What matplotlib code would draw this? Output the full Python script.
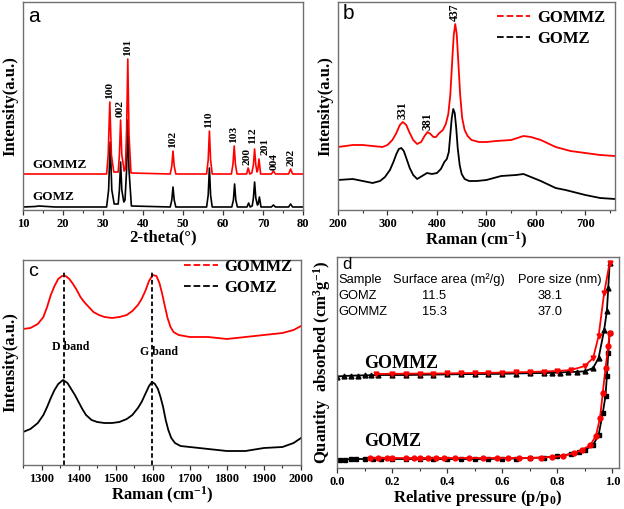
import matplotlib
matplotlib.use("Agg")
import matplotlib.pyplot as plt
from matplotlib.lines import Line2D

plt.rcParams['font.family'] = ['Liberation Serif', 'DejaVu Serif']
plt.rcParams['font.weight'] = 'bold'
plt.rcParams['mathtext.fontset'] = 'custom'
plt.rcParams['mathtext.rm'] = 'Liberation Serif:bold'
plt.rcParams['mathtext.it'] = 'Liberation Serif:italic:bold'
plt.rcParams['mathtext.bf'] = 'Liberation Serif:bold'
plt.rcParams['axes.unicode_minus'] = True

# ---------------- Panel a: XRD ----------------
xrd_gomz_x = [10, 13, 14, 18, 30.9, 31.4, 31.8, 32.2, 32.8, 33.8, 34.1, 34.4, 34.7, 35.2,
              35.5, 35.9, 36.2, 36.5, 37.1, 46.8, 47.2, 47.5, 47.8, 48.2,
              55.9, 56.3, 56.6, 56.9, 57.3, 62.2, 62.6, 62.9, 63.2, 63.6,
              66.0, 66.4, 66.8, 67.3, 67.6, 67.9, 68.2, 68.6, 68.8, 69.1, 69.5,
              72.1, 72.6, 73.1, 76.4, 76.9, 77.4, 80]
xrd_gomz_y = [3, 3.5, 4, 3, 3, 20, 68, 20, 6, 6, 20, 48, 20, 8,
              10, 40, 90, 40, 4, 3, 10, 23, 10, 3,
              3, 15, 42, 15, 3, 3, 10, 26, 10, 3,
              3, 7, 3, 4, 12, 28, 12, 5, 6, 13, 3,
              3, 5, 3, 3, 6, 3, 3]
xrd_gommz_x = [10, 30.9, 31.3, 31.7, 32.1, 32.7, 33.8, 34.1, 34.4, 34.7, 35.3,
               35.6, 35.9, 36.2, 36.5, 37.0, 46.8, 47.2, 47.5, 47.8, 48.2,
               55.9, 56.3, 56.6, 56.9, 57.3, 62.1, 62.5, 62.8, 63.1, 63.5,
               65.9, 66.3, 66.7, 67.2, 67.6, 67.9, 68.2, 68.5, 68.7, 69.0, 69.4,
               72.1, 72.6, 73.1, 76.4, 76.9, 77.4, 80]
xrd_gommz_y = [36, 36, 55, 108, 55, 38, 38, 55, 90, 55, 39,
               41, 80, 151, 75, 37, 36, 44, 59, 44, 36,
               36, 50, 79, 50, 36, 36, 46, 64, 46, 36,
               36, 42, 36, 37, 45, 61, 45, 38, 40, 51, 36,
               36, 39, 36, 36, 41, 36, 36]
xrd_labels = ['100', '002', '101', '102', '110', '103', '200', '112', '201', '004', '202']
xrd_label_x = [31.6, 34.2, 36.1, 47.4, 56.5, 62.6, 66.0, 67.3, 70.6, 72.9, 77.0]
xrd_label_y = [111, 93, 154, 62, 82, 67, 45, 66, 55, 40, 44]

# ---------------- Panel b: Raman low ----------------
rb_gommz_x = [200, 230, 250, 270, 290, 300, 310, 318, 325, 331, 338, 345, 352, 360, 368,
              375, 381, 387, 393, 398, 405, 412, 418, 423, 427, 431, 434, 437, 440,
              443, 447, 451, 456, 462, 470, 485, 500, 520, 550, 575, 590, 610, 640,
              670, 700, 730, 760]
rb_gommz_y = [63, 65, 65, 64, 63, 65, 70, 77, 85, 88, 85, 77, 70, 66, 68,
              74, 78, 76, 73, 73, 77, 80, 86, 96, 115, 150, 175, 186, 176,
              150, 115, 92, 80, 74, 70, 68, 68, 69, 70, 74, 73, 70, 63,
              59, 57, 55, 54]
rb_gomz_x = [200, 230, 250, 270, 285, 295, 305, 312, 318, 323, 328, 333, 338, 345, 352,
             360, 370, 380, 390, 400, 408, 415, 420, 424, 427, 430, 433, 436, 439,
             442, 446, 450, 456, 465, 480, 500, 530, 560, 575, 590, 610, 640, 660,
             700, 730, 760]
rb_gomz_y = [30, 31, 29, 27, 29, 33, 40, 48, 56, 61, 62, 59, 52, 42, 35,
             31, 34, 37, 36, 37, 41, 48, 51, 58, 75, 92, 101, 97, 82,
             62, 45, 36, 31, 29, 29, 30, 34, 35, 36, 33, 29, 22, 20,
             15, 12, 11]
rb_labels = ['331', '381', '437']
rb_label_x = [331, 381, 437]
rb_label_y = [91, 80, 189]

# ---------------- Panel c: Raman D/G ----------------
rc_gommz_x = [1250, 1270, 1290, 1305, 1315, 1325, 1335, 1345, 1355, 1365, 1375, 1385, 1395,
              1405, 1415, 1425, 1440, 1455, 1470, 1490, 1510, 1530, 1545, 1560, 1570,
              1580, 1590, 1600, 1610, 1618, 1625, 1632, 1640, 1648, 1656, 1670, 1700,
              1750, 1800, 1850, 1900, 1950, 1980, 2000]
rc_gommz_y = [136, 137, 141, 148, 158, 170, 179, 186, 189, 189, 186, 181, 175,
              168, 163, 159, 153, 150, 148, 147, 148, 150, 154, 160, 166,
              174, 184, 190, 189, 182, 172, 160, 147, 138, 133, 130, 128,
              128, 126, 128, 130, 132, 135, 139]
rc_gomz_x = [1250, 1270, 1290, 1305, 1315, 1325, 1335, 1345, 1358, 1370, 1380, 1390, 1400,
             1410, 1420, 1435, 1450, 1470, 1490, 1510, 1530, 1545, 1560, 1570, 1580,
             1590, 1598, 1606, 1614, 1621, 1628, 1635, 1642, 1650, 1660, 1675, 1700,
             1750, 1800, 1850, 1900, 1950, 1980, 2000]
rc_gomz_y = [33, 36, 42, 50, 58, 67, 75, 81, 85, 82, 76, 70, 63,
             56, 50, 45, 43, 42, 42, 43, 46, 50, 57, 63, 71,
             79, 83, 81, 76, 68, 58, 45, 35, 27, 22, 19, 18,
             16, 14, 14, 17, 18, 22, 27]
band_x = [1360, 1598]
band_labels = ['D band', 'G band']
band_label_y = [118, 113]

# ---------------- Panel d: BET isotherms ----------------
gomz_ads_p = [0.01, 0.03, 0.05, 0.07, 0.10, 0.13, 0.16, 0.20, 0.25, 0.30, 0.35, 0.40, 0.45,
              0.50, 0.55, 0.60, 0.65, 0.70, 0.75, 0.80, 0.85, 0.88, 0.90, 0.93, 0.95,
              0.965, 0.975, 0.98, 0.985, 0.99]
gomz_ads_q = [8, 8.5, 9, 9, 9, 9, 9, 9, 9, 9, 9, 9, 9,
              9, 9, 9.5, 9.5, 10, 10.5, 11.7, 14, 16, 18, 23, 33,
              55, 72, 92, 115, 135]
gomz_des_p = [0.12, 0.15, 0.18, 0.20, 0.25, 0.28, 0.30, 0.33, 0.36, 0.39, 0.43, 0.48, 0.53,
              0.58, 0.62, 0.66, 0.70, 0.74, 0.78, 0.82, 0.86, 0.89, 0.92, 0.94, 0.955,
              0.965, 0.975, 0.985, 0.99]
gomz_des_q = [10, 10, 10, 10, 10, 10, 10, 10, 10, 10, 10, 10, 10,
              10, 10, 10, 10, 10.5, 11, 12, 15, 18, 23, 32, 50,
              75, 100, 122, 135]
gommz_ads_p = [0.0, 0.025, 0.05, 0.075, 0.10, 0.125, 0.15, 0.20, 0.25, 0.30, 0.35, 0.40, 0.45,
               0.50, 0.55, 0.60, 0.65, 0.70, 0.75, 0.78, 0.81, 0.84, 0.87, 0.90, 0.93,
               0.95, 0.97, 0.98, 0.985, 0.99]
gommz_ads_q = [91.5, 92, 92.3, 92.5, 92.7, 92.8, 93, 93, 93, 93.2, 93.4, 93.6, 93.8,
               94, 94, 94.2, 94.5, 94.8, 95, 95.2, 95.5, 96, 96.2, 96.7, 100,
               110, 138, 157, 180, 205]
gommz_des_p = [0.14, 0.20, 0.25, 0.30, 0.35, 0.40, 0.45, 0.50, 0.55, 0.60, 0.65, 0.70, 0.75,
               0.80, 0.85, 0.90, 0.93, 0.95, 0.97, 0.99]
gommz_des_q = [94, 94.2, 94.3, 94.4, 94.5, 94.6, 94.8, 95, 95.2, 95.4, 95.7, 96, 96.5,
               97, 98, 102, 110, 132, 175, 205]
table_rows = [['Sample', 'Surface area (m²/g)', 'Pore size (nm)'],
              ['GOMZ', '11.5', '38.1'],
              ['GOMMZ', '15.3', '37.0']]

RED = '#ff0000'
BLK = '#000000'
SPINE = '#707070'
W, H = 624, 509

fig = plt.figure(figsize=(6.24, 5.09), dpi=100)


def add_ax(x0, y0, x1, y1):
    return fig.add_axes([x0 / W, 1 - y1 / H, (x1 - x0) / W, (y1 - y0) / H])


def style(ax):
    for s in ax.spines.values():
        s.set_color(SPINE)
        s.set_linewidth(1.0)
    ax.tick_params(axis='x', which='major', direction='out', length=3.5, width=0.9,
                   labelsize=9, color='#333333', pad=2)
    ax.tick_params(axis='x', which='minor', direction='out', length=2, width=0.8,
                   color='#333333')
    ax.set_yticks([])
    for lab in ax.get_xticklabels():
        lab.set_fontweight('bold')


def panel_letter(ax, s, size=15, y=0.99):
    ax.text(0.018, y, s, transform=ax.transAxes, va='top', ha='left',
            fontsize=size, fontweight='normal', family='Liberation Sans')


# ---- a ----
axa = add_ax(23, 2, 303, 210)
axa.plot(xrd_gomz_x, xrd_gomz_y, color=BLK, lw=1.2)
axa.plot(xrd_gommz_x, xrd_gommz_y, color=RED, lw=1.2)
axa.set_xlim(10, 80)
axa.set_ylim(0, 208)
axa.set_xticks(range(10, 81, 10))
axa.set_xticks(range(15, 80, 10), minor=True)
style(axa)
for t, x, y in zip(xrd_labels, xrd_label_x, xrd_label_y):
    axa.text(x, y, t, rotation=90, ha='center', va='bottom', fontsize=8.2, fontweight='bold')
axa.text(12.3, 45, 'GOMMZ', fontsize=9.5, fontweight='bold', va='center')
axa.text(12.3, 13, 'GOMZ', fontsize=9.5, fontweight='bold', va='center')
axa.set_xlabel('2-theta(°)', fontsize=12, fontweight='bold', labelpad=0)
axa.set_ylabel('Intensity(a.u.)', fontsize=12, fontweight='bold', labelpad=3)
panel_letter(axa, 'a', 15, 0.975)

# ---- b ----
axb = add_ax(338, 2, 615, 210)
axb.plot(rb_gomz_x, rb_gomz_y, color=BLK, lw=1.3)
axb.plot(rb_gommz_x, rb_gommz_y, color=RED, lw=1.3)
axb.set_xlim(200, 760)
axb.set_ylim(0, 208)
axb.set_xticks(range(200, 701, 100))
axb.set_xticks(range(250, 760, 100), minor=True)
style(axb)
for t, x, y in zip(rb_labels, rb_label_x, rb_label_y):
    axb.text(x, y, t, rotation=90, ha='center', va='bottom', fontsize=8.5, fontweight='bold')
axb.set_xlabel('Raman (cm$^{-1}$)', fontsize=12, fontweight='bold', labelpad=0)
axb.set_ylabel('Intensity(a.u.)', fontsize=12, fontweight='bold', labelpad=3)
handles = [Line2D([], [], color=RED, lw=1.3, ls='--'),
           Line2D([], [], color=BLK, lw=1.3, ls='--')]
axb.legend(handles, ['GOMMZ', 'GOMZ'], loc='upper right', frameon=False,
           prop={'size': 12, 'weight': 'bold', 'family': 'Liberation Serif'},
           handlelength=2.0, handletextpad=0.4, labelspacing=0.3,
           borderaxespad=0.2, bbox_to_anchor=(1.0, 1.01))
panel_letter(axb, 'b')

# ---- c ----
axc = add_ax(23, 260, 301, 465)
axc.plot(rc_gommz_x, rc_gommz_y, color=RED, lw=1.3)
axc.plot(rc_gomz_x, rc_gomz_y, color=BLK, lw=1.3)
for bx in band_x:
    axc.plot([bx, bx], [0, 193], color=BLK, lw=1.3, ls=(0, (2.5, 1.5)))
for bx, t, y in zip(band_x, band_labels, band_label_y):
    axc.text(bx + 20, y, t, ha='center', va='center', fontsize=8.5, fontweight='bold')
axc.set_xlim(1250, 2000)
axc.set_ylim(0, 205)
axc.set_xticks(range(1300, 2001, 100))
axc.set_xticks(range(1250, 2000, 100), minor=True)
style(axc)
axc.set_xlabel('Raman (cm$^{-1}$)', fontsize=12, fontweight='bold', labelpad=0)
axc.set_ylabel('Intensity(a.u.)', fontsize=12, fontweight='bold', labelpad=3)
axc.legend(handles, ['GOMMZ', 'GOMZ'], loc='upper right', frameon=False,
           prop={'size': 12, 'weight': 'bold', 'family': 'Liberation Serif'},
           handlelength=2.0, handletextpad=0.4, labelspacing=0.3,
           borderaxespad=0.1, bbox_to_anchor=(1.0, 1.045))
panel_letter(axc, 'c', 14, 0.985)

# ---- d ----
axd = add_ax(337, 257, 619, 468)
axd.plot(gomz_ads_p, gomz_ads_q, color=BLK, lw=1.3, marker='s', ms=3.5)
axd.plot(gomz_des_p, gomz_des_q, color=RED, lw=1.3, marker='o', ms=3.5)
axd.plot(gommz_ads_p, gommz_ads_q, color=BLK, lw=1.3, marker='^', ms=3.5)
axd.plot(gommz_des_p, gommz_des_q, color=RED, lw=1.3, marker='v', ms=3.5)
axd.set_xlim(0, 1.024)
axd.set_ylim(0, 211)
axd.set_xticks([0.0, 0.2, 0.4, 0.6, 0.8, 1.0])
axd.set_xticks([0.1, 0.3, 0.5, 0.7, 0.9], minor=True)
axd.set_xticklabels(['0.0', '0.2', '0.4', '0.6', '0.8', '1.0'])
style(axd)
axd.text(0.1, 105, 'GOMMZ', fontsize=13, fontweight='bold', va='center')
axd.text(0.1, 27, 'GOMZ', fontsize=13, fontweight='bold', va='center')
col_x = [0.006, 0.202, 0.657]
val_x = [0.006, 0.31, 0.73]
row_y = [188, 172, 156]
for r, (row, yy) in enumerate(zip(table_rows, row_y)):
    xs = col_x if r == 0 else val_x
    for c, (t, xx) in enumerate(zip(row, xs)):
        axd.text(xx, yy, t, fontsize=9.3, fontweight='normal', family='Liberation Sans',
                 va='center', ha='left')
axd.set_xlabel('Relative pressure (p/p$_0$)', fontsize=12, fontweight='bold', labelpad=0)
axd.set_ylabel('Quantity  absorbed (cm$^3$g$^{-1}$)', fontsize=12, fontweight='bold',
               labelpad=3)
panel_letter(axd, 'd', 12, 1.0)

fig.savefig('out.png', dpi=100)
